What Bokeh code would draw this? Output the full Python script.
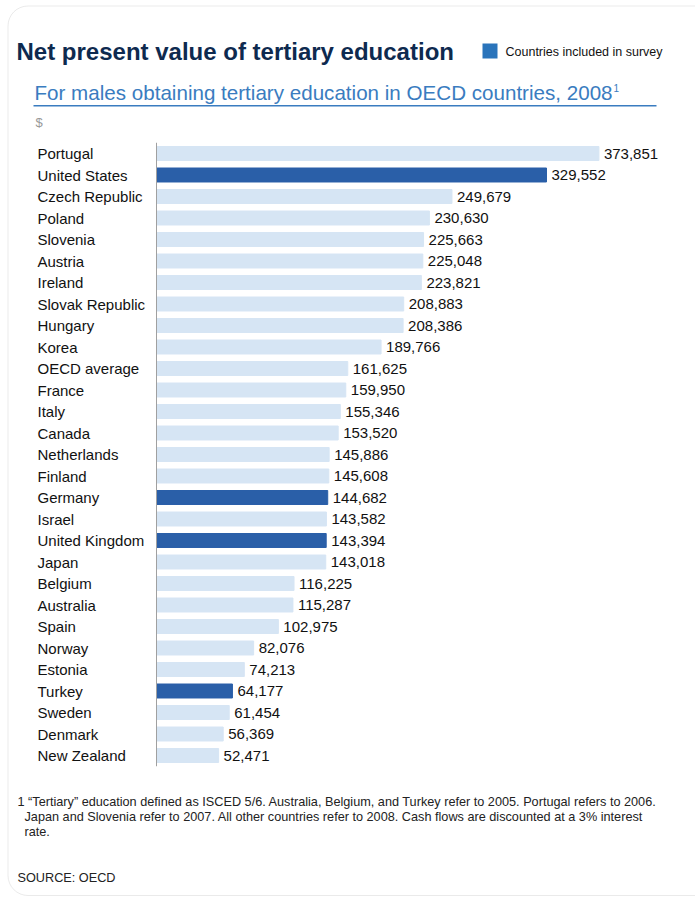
from bokeh.plotting import figure
from bokeh.models import Range1d, FactorRange, Label, BoxAnnotation, ColumnDataSource
from bokeh.core.properties import value
from bokeh.transform import dodge
from bokeh.embed import file_html
from bokeh.resources import INLINE

countries = ["Portugal", "United States", "Czech Republic", "Poland", "Slovenia", "Austria",
             "Ireland", "Slovak Republic", "Hungary", "Korea", "OECD average", "France",
             "Italy", "Canada", "Netherlands", "Finland", "Germany", "Israel",
             "United Kingdom", "Japan", "Belgium", "Australia", "Spain", "Norway",
             "Estonia", "Turkey", "Sweden", "Denmark", "New Zealand"]
npv = [373851, 329552, 249679, 230630, 225663, 225048, 223821, 208883, 208386, 189766,
       161625, 159950, 155346, 153520, 145886, 145608, 144682, 143582, 143394, 143018,
       116225, 115287, 102975, 82076, 74213, 64177, 61454, 56369, 52471]
in_survey = ["United States", "Germany", "United Kingdom", "Turkey"]

title_text = "Net present value of tertiary education"
subtitle_text = "For males obtaining tertiary education in OECD countries, 2008"
legend_text = "Countries included in survey"
unit_text = "$"
foot_lines = ["1 \u201cTertiary\u201d education defined as ISCED 5/6. Australia, Belgium, and Turkey refer to 2005. Portugal refers to 2006.",
              "Japan and Slovenia refer to 2007. All other countries refer to 2008. Cash flows are discounted at a 3% interest",
              "rate."]
source_text = "SOURCE: OECD"

DARK = "#2a5fa8"
LIGHT = "#d6e5f4"
NAVY = "#0e2a4f"
MID = "#3a7cc0"
FONT = "Liberation Sans"

W, H = 695, 897
per_px = 845.0   # dollars per pixel
origin = 156     # px of bar origin
row_h = 21.5     # px per row
first_row = 153  # px centre of first row

n = len(countries)
pad = (H / row_h - n) / 2.0
s = H / (n + 2 * pad)
shift = -(first_row - (pad + 0.5) * s) / s

src = ColumnDataSource(dict(
    country=countries,
    npv=npv,
    color=[DARK if c in in_survey else LIGHT for c in countries],
    label=[f"{v:,}" for v in npv],
))

yr = FactorRange(*countries[::-1], range_padding=pad, range_padding_units="absolute")
p = figure(width=W, height=H, output_backend="svg", toolbar_location=None,
           x_range=Range1d(-origin * per_px, (W - origin) * per_px), y_range=yr,
           min_border=0)
p.axis.visible = False
p.grid.visible = False
p.outline_line_color = None

yc = dodge("country", shift, range=yr)
p.hbar(y=yc, left=0, right="npv", height=0.65, color="color", source=src)
p.text(x=0, y=yc, text="country", source=src, x_offset=-119,
       text_align="left", text_baseline="middle", text_font=value(FONT),
       text_font_size="15px", text_color="#111111")
p.text(x="npv", y=yc, text="label", source=src, x_offset=5,
       text_align="left", text_baseline="middle", text_font=value(FONT),
       text_font_size="15px", text_color="#111111")

axis_src = ColumnDataSource(dict(top=[countries[0]], bottom=[countries[-1]]))
p.segment(x0=0, x1=0, y0=dodge("top", shift + 0.5, range=yr),
          y1=dodge("bottom", shift - 0.5, range=yr),
          line_color="#a0a0a0", line_width=1, source=axis_src)


def sx(px):
    return px


def sy(py):
    return H - py


def lab(text, px, py, size, color, style="normal"):
    p.add_layout(Label(x=sx(px), y=sy(py), x_units="screen", y_units="screen", text=text,
                       text_font=FONT, text_font_size=size, text_color=color,
                       text_font_style=style, text_baseline="middle", text_align="left"))


def box(l, r, t, b, **kw):
    p.add_layout(BoxAnnotation(left=sx(l), right=sx(r), top=sy(t), bottom=sy(b),
                               left_units="screen", right_units="screen",
                               top_units="screen", bottom_units="screen", **kw))


# rounded border
box(7.5, 760, 5.5, 895, fill_alpha=0, line_color="#b8b8b8", line_width=1, border_radius=20)

lab(title_text, 16, 51, "24px", NAVY, style="bold")
box(482, 497, 43, 58, fill_color="#2a74bb", fill_alpha=1, line_color=None)
lab(legend_text, 505, 51, "12.5px", "#111111")
lab(subtitle_text, 34, 92, "20.6px", MID)
lab("1", 613, 87, "10px", MID)
box(33, 656, 104.5, 106, fill_color=MID, fill_alpha=1, line_color=None)
lab(unit_text, 35, 122, "13px", "#999999")
lab(foot_lines[0], 17, 801, "12.7px", "#222222")
lab(foot_lines[1], 24, 816, "12.7px", "#222222")
lab(foot_lines[2], 24, 831, "12.7px", "#222222")
lab(source_text, 17, 877, "12.7px", "#222222")

open("out.html", "w").write(file_html(p, INLINE))
